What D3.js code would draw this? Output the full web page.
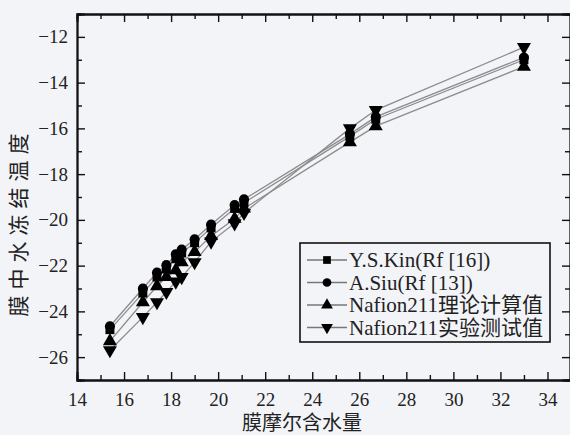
<!DOCTYPE html>
<html><head><meta charset="utf-8">
<script src="https://cdn.jsdelivr.net/npm/d3@7"></script>
<style>
body{margin:0;background:#f3f4f8;} svg{display:block;}
svg text{font-family:"Liberation Serif",serif;}
svg text.cjk{font-family:"Liberation Serif","Noto Sans CJK SC",serif;}
</style>
</head><body>
<script>
const xValues = [15.4, 16.8, 17.4, 17.8, 18.2, 18.45, 19.0, 19.7, 20.7, 21.1, 25.6, 26.7, 33.0];
const kim    = [-24.8, -23.2, -22.5, -22.15, -21.7, -21.45, -21.0, -20.35, -19.5, -19.25, -16.35, -15.6, -13.0];
const siu    = [-24.65, -23.0, -22.3, -21.98, -21.5, -21.3, -20.85, -20.2, -19.35, -19.1, -16.25, -15.5, -12.9];
const theory = [-25.3, -23.6, -22.9, -22.5, -22.2, -21.85, -21.4, -20.7, -19.95, -19.5, -16.6, -15.9, -13.3];
const exper  = [-25.7, -24.25, -23.6, -23.15, -22.7, -22.5, -21.85, -20.95, -20.15, -19.7, -16.0, -15.2, -12.45];
const seriesNames = ["Y.S.Kin(Rf [16])", "A.Siu(Rf [13])", "Nafion211理论计算值", "Nafion211实验测试值"];
const xTicks = [14, 16, 18, 20, 22, 24, 26, 28, 30, 32, 34];
const yTicks = [-26, -24, -22, -20, -18, -16, -14, -12];
const xTitle = "膜摩尔含水量";
const yTitle = "膜中水冻结温度";

const W = 570, H = 435;
const svg = d3.select("body").append("svg").attr("width", W).attr("height", H);
svg.append("rect").attr("width", W).attr("height", H).attr("fill", "#f3f4f8");

const L = 77, R = 571, T = 14, B = 380;
const x = d3.scaleLinear().domain([14, 35]).range([L, R]);
const y = d3.scaleLinear().domain([-27, -11]).range([B, T]);

const minorX = d3.range(15, 35, 2);
const minorY = d3.range(-27, -10, 2);

const axB = d3.axisBottom(x).tickValues(xTicks).tickSize(-8).tickPadding(13).tickFormat(d3.format("d"));
const axBm = d3.axisBottom(x).tickValues(minorX).tickSize(-5).tickFormat("");
const axT = d3.axisTop(x).tickValues(xTicks).tickSize(-8).tickFormat("");
const axTm = d3.axisTop(x).tickValues(minorX).tickSize(-5).tickFormat("");
const axL = d3.axisLeft(y).tickValues(yTicks).tickSize(-8).tickPadding(9).tickFormat(d => "\u2212" + Math.abs(d));
const axLm = d3.axisLeft(y).tickValues(minorY).tickSize(-5).tickFormat("");
const axR = d3.axisRight(y).tickValues(yTicks).tickSize(-8).tickFormat("");
const axRm = d3.axisRight(y).tickValues(minorY).tickSize(-5).tickFormat("");

function draw(ax, tr) {
  const g = svg.append("g").attr("transform", tr).call(ax);
  g.attr("font-family", null).attr("font-size", null);
  g.selectAll("path.domain").attr("stroke", "#111").attr("stroke-width", 1.8);
  g.selectAll(".tick line").attr("stroke", "#111").attr("stroke-width", 1.4);
  g.selectAll("text").attr("font-size", 19).attr("fill", "#222");
  return g;
}
draw(axB, `translate(0,${B})`);
draw(axBm, `translate(0,${B})`);
draw(axT, `translate(0,${T})`);
draw(axTm, `translate(0,${T})`);
draw(axL, `translate(${L},0)`);
draw(axLm, `translate(${L},0)`);
draw(axR, `translate(${R - 1},0)`);
draw(axRm, `translate(${R - 1},0)`);

svg.append("text").attr("class", "cjk").attr("x", 302).attr("y", 430).attr("text-anchor", "middle")
  .attr("font-size", 20).attr("fill", "#222").text(xTitle);
svg.append("text").attr("class", "cjk").attr("transform", `translate(26,222) rotate(-90)`).attr("text-anchor", "middle")
  .attr("font-size", 21).attr("letter-spacing", 6).attr("fill", "#222").text(yTitle);

const data = [kim, siu, theory, exper];
const symbols = [d3.symbolSquare, d3.symbolCircle, d3.symbolTriangle, d3.symbolTriangle];
const sizes = [80, 80, 85, 85];
const rot = [0, 0, 0, 180];

const line = d3.line().x(d => x(d[0])).y(d => y(d[1]));
data.forEach((vals, i) => {
  const pts = xValues.map((xv, j) => [xv, vals[j]]);
  svg.append("path").datum(pts).attr("d", line).attr("fill", "none")
    .attr("stroke", "#8c8c8c").attr("stroke-width", 1.3);
});
data.forEach((vals, i) => {
  const pts = xValues.map((xv, j) => [xv, vals[j]]);
  svg.append("g").selectAll("path").data(pts).join("path")
    .attr("d", d3.symbol().type(symbols[i]).size(sizes[i]))
    .attr("transform", d => `translate(${x(d[0])},${y(d[1])}) rotate(${rot[i]})`)
    .attr("fill", "#000");
});

const lg = svg.append("g");
lg.append("rect").attr("x", 300).attr("y", 243).attr("width", 250).attr("height", 99)
  .attr("fill", "none").attr("stroke", "#111").attr("stroke-width", 1.6);
seriesNames.forEach((name, i) => {
  const cy = 260 + i * 22.5;
  lg.append("line").attr("x1", 307).attr("x2", 347).attr("y1", cy).attr("y2", cy)
    .attr("stroke", "#777").attr("stroke-width", 1.3);
  lg.append("path").attr("d", d3.symbol().type(symbols[i]).size(60))
    .attr("transform", `translate(327,${cy}) rotate(${rot[i]})`).attr("fill", "#000");
  lg.append("text").attr("class", "cjk").attr("x", 349).attr("y", cy + 7)
    .attr("font-size", 21).attr("fill", "#222").text(name);
});
</script>
</body></html>
